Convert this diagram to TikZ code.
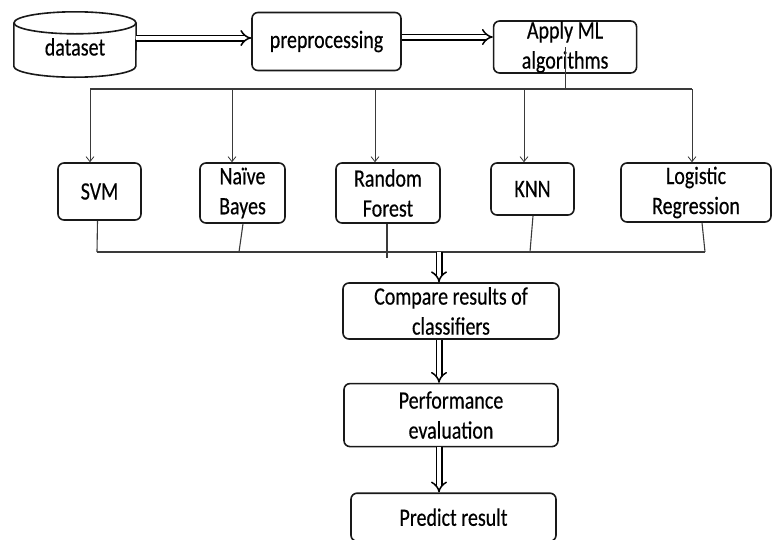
\documentclass[tikz,border=0pt]{standalone}
\usepackage{fontspec}
\setmainfont{Carlito}
\newfontfamily\boxfont[FakeStretch=0.8,FakeBold=0.4]{Carlito}
\usetikzlibrary{arrows.meta,positioning}
\definecolor{edgegray}{HTML}{3A3A3A}

\begin{document}
\begin{tikzpicture}[
    x=1pt,y=-1pt,
    every node/.style={font=\boxfont\fontsize{25}{30}\selectfont,align=center,inner sep=0pt},
    box/.style={draw=black!90,line width=1.6pt,rounded corners=6pt},
    db/.style={minimum width=122pt,minimum height=65pt,text height=26pt,text depth=4pt},
    dbline/.style={draw=black!90,line width=1.6pt},
    fat/.style={-{Implies},double,double distance=4pt,line width=1.5pt},
    drop/.style={-{Straight Barb[length=5pt,width=8pt]},edgegray,line width=0.8pt},
    bus/.style={edgegray,line width=1.1pt}
]
\useasboundingbox (0,0) rectangle (773,539);

% top row
\node[db] (dataset) at (75,44.5) {dataset};
\draw[dbline] ([yshift=-11pt]dataset.north west) -- ([yshift=11pt]dataset.south west)
    arc[start angle=180,end angle=360,x radius=61pt,y radius=11pt]
    -- ([yshift=-11pt]dataset.north east);
\draw[dbline] ([yshift=-11pt]dataset.north) ellipse[x radius=61pt,y radius=11pt];
\node[box,minimum width=149pt,minimum height=58pt,right=115pt of dataset,yshift=3pt] (preproc) {preprocessing};
\node[box,minimum width=143pt,minimum height=52pt,right=91pt of preproc,yshift=-5.5pt] (apply) {Apply ML\\algorithms};

% classifiers
\node[box,minimum width=83pt,minimum height=57pt] (svm) at (99.5,191.5) {SVM};
\node[box,minimum width=85pt,minimum height=60pt] (nb) at (242.5,193) {Naïve\\Bayes};
\node[box,minimum width=104pt,minimum height=60pt] (rf) at (388,193) {Random\\Forest};
\node[box,minimum width=83pt,minimum height=52pt] (knn) at (532.5,189) {KNN};
\node[box,minimum width=150pt,minimum height=59pt] (lr) at (696,192.5) {Logistic\\Regression};

% result chain
\node[box,minimum width=216pt,minimum height=56pt] (cmp) at (451,311) {Compare results of\\classifiers};
\node[box,minimum width=214pt,minimum height=63pt,below=43pt of cmp] (perf) {Performance\\evaluation};
\node[box,minimum width=205pt,minimum height=48pt,below=45pt of perf,xshift=2.5pt] (pred) {Predict result};

\coordinate (treeL) at (90,89);
\coordinate (treeR) at (692,89);
\coordinate (busL) at (97,252);
\coordinate (busR) at (705,252);
\coordinate (spine) at (439,252);

\draw[fat] ([yshift=6.5pt]dataset.east) -- ([yshift=6.5pt]dataset.east -| preproc.west);
\draw[fat] ([yshift=4.5pt]preproc.east) -- ([yshift=4.5pt]preproc.east -| apply.west);

% split to classifiers
\draw[bus] (apply.center) -- (apply.center |- treeL);
\draw[bus] (treeL) -- (treeR);
\draw[drop] ([xshift=-9.5pt]svm.north |- treeL) -- ([xshift=-9.5pt]svm.north);
\draw[drop] ([xshift=-10.5pt]nb.north |- treeL) -- ([xshift=-10.5pt]nb.north);
\draw[drop] ([xshift=-13pt]rf.north |- treeL) -- ([xshift=-13pt]rf.north);
\draw[drop] ([xshift=-8.5pt]knn.north |- treeL) -- ([xshift=-8.5pt]knn.north);
\draw[drop] ([xshift=-4pt]lr.north |- treeL) -- ([xshift=-4pt]lr.north);

% join results
\draw[bus] (busL) -- (busR);
\draw[bus] ([xshift=-2pt]svm.south) -- (busL);
\draw[bus] ([xshift=0.5pt]nb.south) -- ([xshift=-3.5pt]nb.south |- busL);
\draw[bus] ([xshift=-1pt]rf.south) -- ([xshift=-1pt,yshift=-6pt]rf.south |- busL);
\draw[bus] ([xshift=0.5pt]knn.south) -- ([xshift=-2.5pt]knn.south |- busL);
\draw[bus] ([xshift=6pt]lr.south) -- (busR);

\draw[fat] (spine) -- (spine |- cmp.north);
\draw[fat] (cmp.south -| spine) -- (perf.north -| spine);
\draw[fat] (perf.south -| spine) -- (pred.north -| spine);
\end{tikzpicture}
\end{document}
